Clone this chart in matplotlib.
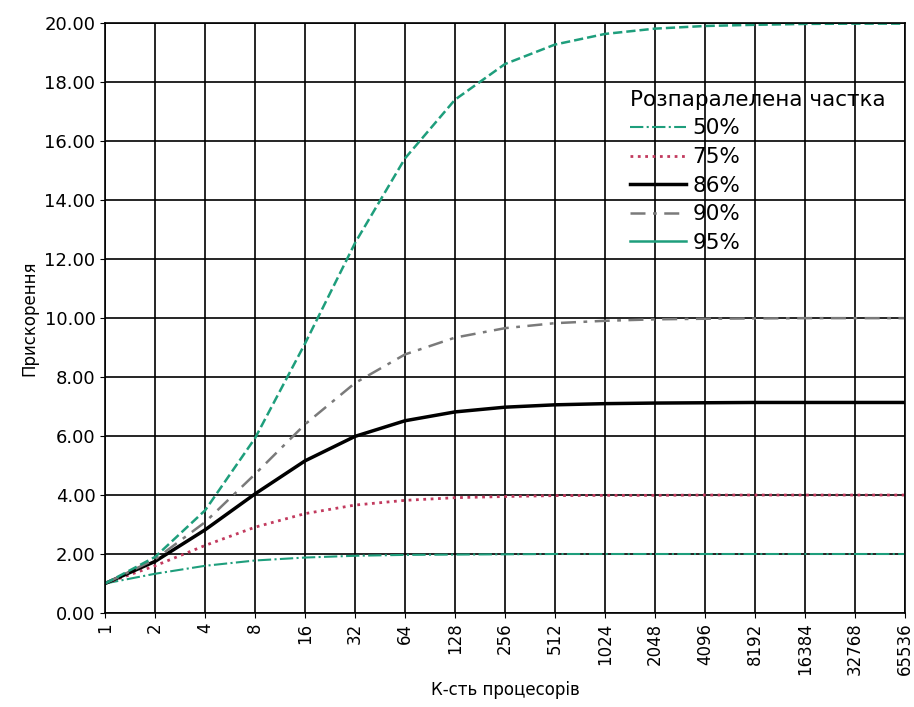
import matplotlib
matplotlib.use("Agg")
import matplotlib.pyplot as plt
from matplotlib.lines import Line2D

# кількість процесорів (степені двійки)
procs = [1, 2, 4, 8, 16, 32, 64, 128, 256, 512, 1024, 2048, 4096, 8192,
         16384, 32768, 65536]

# прискорення
s50 = [1.00, 1.33, 1.60, 1.78, 1.88, 1.94, 1.97, 1.98, 1.99, 2.00, 2.00,
       2.00, 2.00, 2.00, 2.00, 2.00, 2.00]
s75 = [1.00, 1.60, 2.29, 2.91, 3.37, 3.66, 3.82, 3.91, 3.95, 3.98, 3.99,
       3.99, 4.00, 4.00, 4.00, 4.00, 4.00]
s86 = [1.00, 1.75, 2.82, 4.04, 5.16, 5.99, 6.52, 6.82, 6.98, 7.06, 7.10,
       7.12, 7.13, 7.14, 7.14, 7.14, 7.14]
s90 = [1.00, 1.82, 3.08, 4.71, 6.40, 7.80, 8.77, 9.34, 9.66, 9.83, 9.91,
       9.96, 9.98, 9.99, 10.00, 10.00, 10.00]
s95 = [1.00, 1.90, 3.48, 5.93, 9.14, 12.55, 15.42, 17.41, 18.62, 19.28,
       19.64, 19.82, 19.91, 19.95, 19.98, 19.99, 19.99]

labels = ["50%", "75%", "86%", "90%", "95%"]
y_ticks = [0, 2, 4, 6, 8, 10, 12, 14, 16, 18, 20]

TEAL = "#1e9e7c"
RED = "#c23a5e"
GREY = "#7a7a7a"
DASHDOT = (0, (6, 3, 1.5, 3))


def main():
    fig = plt.figure(figsize=(9.14, 7.07), dpi=100)
    ax = fig.add_axes([0.115, 0.133, 0.875, 0.834])

    ax.plot(procs, s50, color=TEAL, linestyle="-.", lw=1.5)
    ax.plot(procs, s75, color=RED, linestyle=":", lw=2)
    ax.plot(procs, s86, color="black", linestyle="-", lw=2.5)
    ax.plot(procs, s90, color=GREY, linestyle=DASHDOT, lw=1.8)
    ax.plot(procs, s95, color=TEAL, linestyle="--", lw=1.8)

    ax.set_xscale("log", base=2)
    ax.set_xlim(1, 65536)
    ax.set_ylim(0, 20)
    ax.set_xticks(procs)
    ax.set_xticklabels([str(p) for p in procs], rotation=90, fontsize=12)
    ax.xaxis.set_minor_locator(matplotlib.ticker.NullLocator())
    ax.set_yticks(y_ticks)
    ax.set_yticklabels([f"{v:.2f}" for v in y_ticks], fontsize=13)
    ax.grid(True, color="black", lw=1.2)
    for sp in ax.spines.values():
        sp.set_linewidth(1.2)

    ax.set_xlabel("К-сть процесорів", fontsize=12, labelpad=4)
    ax.set_ylabel("Прискорення", fontsize=12, labelpad=4)

    handles = [
        Line2D([], [], color=TEAL, linestyle="-.", lw=1.5),
        Line2D([], [], color=RED, linestyle=":", lw=2),
        Line2D([], [], color="black", linestyle="-", lw=2.5),
        Line2D([], [], color=GREY, linestyle=DASHDOT, lw=1.8),
        Line2D([], [], color=TEAL, linestyle="-", lw=1.8),
    ]
    leg = ax.legend(handles, labels, title="Розпаралелена частка",
                    loc="upper right", bbox_to_anchor=(1.0, 0.92),
                    frameon=False, fontsize=15.5, title_fontsize=15.5,
                    handlelength=2.6, handletextpad=0.3, labelspacing=0.4)
    leg._legend_box.align = "left"

    fig.savefig("out.png", dpi=100, facecolor="white")
    plt.close(fig)


if __name__ == "__main__":
    main()
